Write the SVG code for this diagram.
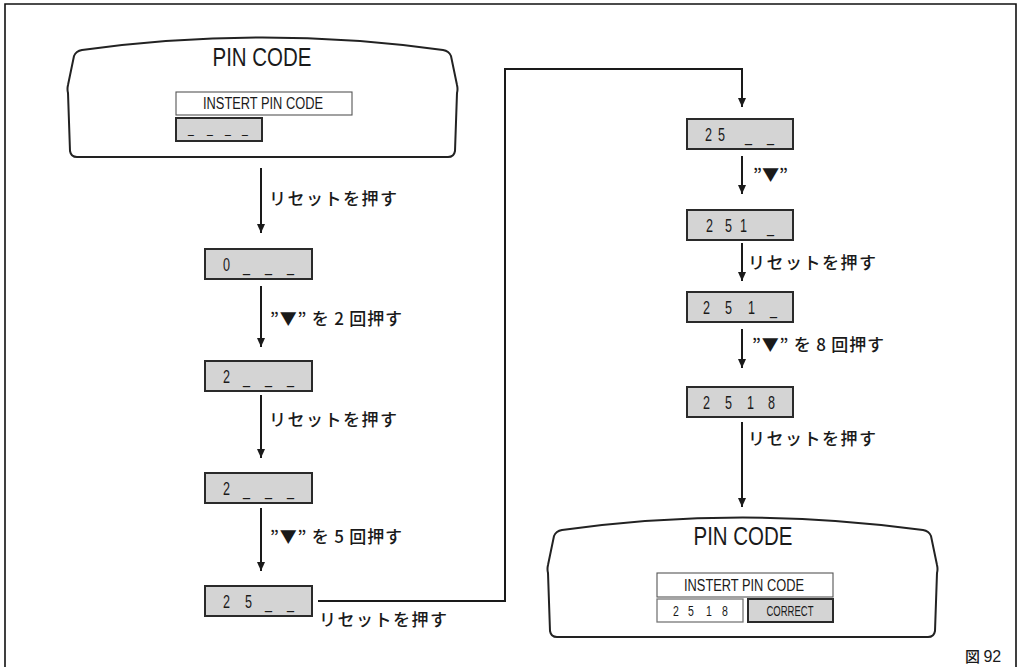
<svg xmlns="http://www.w3.org/2000/svg" xmlns:xlink="http://www.w3.org/1999/xlink" width="1018" height="667" viewBox="0 0 1018 667">
<style>
.frame{fill:none;stroke:#111;stroke-width:1.6}
.panel{fill:#fff;stroke:#222;stroke-width:2}
.box{fill:#d4d4d4;stroke:#2a2a2a;stroke-width:2}
.wbox{fill:#fff;stroke:#555;stroke-width:1.1}
.wbox2{fill:#fff;stroke:#777;stroke-width:1.3}
.title{font-family:"Liberation Sans",Arial,sans-serif;font-size:25px;fill:#1a1a1a;text-anchor:middle}
.sub{font-family:"Liberation Sans",Arial,sans-serif;font-size:16px;fill:#1a1a1a;text-anchor:middle}
.dig{font-family:"Liberation Sans",Arial,sans-serif;font-size:18px;fill:#1a1a1a}
.sdig{font-family:"Liberation Sans",Arial,sans-serif;font-size:14px;fill:#1a1a1a}
.jp{font-family:"Noto Sans CJK JP","Noto Sans",sans-serif;font-size:17px;font-weight:500;fill:#1a1a1a}
.line{fill:none;stroke:#1a1a1a;stroke-width:2}
</style>
<defs>
<marker id="ah2" markerUnits="userSpaceOnUse" markerWidth="9" markerHeight="8" viewBox="0 0 9 8" refX="9" refY="4" orient="auto">
<path d="M0,0 L9,4 L0,8 Z" fill="#1a1a1a"/>
</marker>
<path id="panelShape" d="M14,13 Q194.5,-12 375,13 Q381,14 383,19 L389,48 Q390,52 389,56 L387,114 Q386,120 380,120 L9,120 Q3,120 2,114 L0,56 Q-1,52 0,48 L6,19 Q8,14 14,13 Z"/>
</defs>

<path class="frame" d="M5,667 V4 H1016 V667"/>

<g id="panel-start">
<use href="#panelShape" class="panel" transform="translate(68,37)"/>
<text class="title" x="262" y="66" textLength="99" lengthAdjust="spacingAndGlyphs">PIN CODE</text>
<rect class="wbox" x="176" y="92" width="176" height="23"/>
<text class="sub" x="263" y="109" textLength="120" lengthAdjust="spacingAndGlyphs">INSTERT PIN CODE</text>
<rect class="box" x="176" y="118" width="86" height="23"/>
<text class="sdig" transform="translate(0,133) scale(0.75,1)" x="250.7 276 300 322.7" y="0">____</text>
</g>

<g id="box-0">
<rect class="box" x="205" y="249" width="107" height="30"/>
<text class="dig" transform="translate(0,270.5) scale(0.7,1)" x="318.6 347.1 378.6 410" y="0">0___</text>
</g>
<g id="box-2a">
<rect class="box" x="205" y="361" width="107" height="30"/>
<text class="dig" transform="translate(0,382.5) scale(0.7,1)" x="318.6 347.1 378.6 410" y="0">2___</text>
</g>
<g id="box-2b">
<rect class="box" x="205" y="473" width="107" height="30"/>
<text class="dig" transform="translate(0,494.5) scale(0.7,1)" x="318.6 347.1 378.6 410" y="0">2___</text>
</g>
<g id="box-25a">
<rect class="box" x="205" y="586" width="107" height="30"/>
<text class="dig" transform="translate(0,607.5) scale(0.7,1)" x="318.6 350 378.6 410" y="0">25__</text>
</g>

<g id="box-25b">
<rect class="box" x="687" y="119" width="106" height="30"/>
<text class="dig" transform="translate(0,140.5) scale(0.7,1)" x="1007.1 1025.7 1064.3 1095.7" y="0">25__</text>
</g>
<g id="box-251a">
<rect class="box" x="687" y="210" width="106" height="30"/>
<text class="dig" transform="translate(0,231.5) scale(0.7,1)" x="1008.6 1035.7 1057.1 1095.7" y="0">251_</text>
</g>
<g id="box-251b">
<rect class="box" x="687" y="292" width="106" height="30"/>
<text class="dig" transform="translate(0,313.5) scale(0.7,1)" x="1004.3 1035.7 1068.6 1100" y="0">251_</text>
</g>
<g id="box-2518">
<rect class="box" x="687" y="387" width="106" height="30"/>
<text class="dig" transform="translate(0,408.5) scale(0.7,1)" x="1004.3 1035.7 1067.1 1097.1" y="0">2518</text>
</g>

<g id="panel-end">
<use href="#panelShape" class="panel" transform="translate(548,517)"/>
<text class="title" x="743" y="545" textLength="99" lengthAdjust="spacingAndGlyphs">PIN CODE</text>
<rect class="wbox" x="657" y="573" width="176" height="24"/>
<text class="sub" x="744" y="591" textLength="120" lengthAdjust="spacingAndGlyphs">INSTERT PIN CODE</text>
<rect class="wbox2" x="657" y="599" width="86" height="23"/>
<text class="sdig" transform="translate(0,615.5) scale(0.75,1)" x="897.3 917.3 941.3 962.7" y="0">2518</text>
<rect class="box" x="748" y="599" width="85" height="23"/>
<text class="sdig" x="790" y="615.5" text-anchor="middle" textLength="47" lengthAdjust="spacingAndGlyphs">CORRECT</text>
</g>

<g id="connectors">
<line class="line" x1="261" y1="168" x2="261" y2="233" marker-end="url(#ah2)"/>
<line class="line" x1="261" y1="286" x2="261" y2="347" marker-end="url(#ah2)"/>
<line class="line" x1="261" y1="395" x2="261" y2="458" marker-end="url(#ah2)"/>
<line class="line" x1="261" y1="508" x2="261" y2="571" marker-end="url(#ah2)"/>
<path class="line" d="M318,601 H505 V69 H742 V107" marker-end="url(#ah2)"/>
<line class="line" x1="742" y1="156" x2="742" y2="194" marker-end="url(#ah2)"/>
<line class="line" x1="742" y1="243" x2="742" y2="281" marker-end="url(#ah2)"/>
<line class="line" x1="742" y1="329" x2="742" y2="368" marker-end="url(#ah2)"/>
<line class="line" x1="742" y1="422" x2="742" y2="507" marker-end="url(#ah2)"/>

<text class="jp" x="269" y="205" textLength="128" lengthAdjust="spacing">リセットを押す</text>
<text class="jp" x="270" y="325" textLength="132" lengthAdjust="spacing">”▼” を 2 回押す</text>
<text class="jp" x="269" y="426" textLength="128" lengthAdjust="spacing">リセットを押す</text>
<text class="jp" x="270" y="543" textLength="132" lengthAdjust="spacing">”▼” を 5 回押す</text>
<text class="jp" x="319" y="626" textLength="128" lengthAdjust="spacing">リセットを押す</text>
<text class="jp" x="753" y="181" textLength="35" lengthAdjust="spacingAndGlyphs">”▼”</text>
<text class="jp" x="748" y="269" textLength="128" lengthAdjust="spacing">リセットを押す</text>
<text class="jp" x="752" y="351" textLength="132" lengthAdjust="spacing">”▼” を 8 回押す</text>
<text class="jp" x="748" y="445" textLength="128" lengthAdjust="spacing">リセットを押す</text>
</g>

<text class="jp" x="965" y="662" style="font-size:15px">図 <tspan style="font-family:'Liberation Sans',Arial,sans-serif;font-size:16px">92</tspan></text>
</svg>
